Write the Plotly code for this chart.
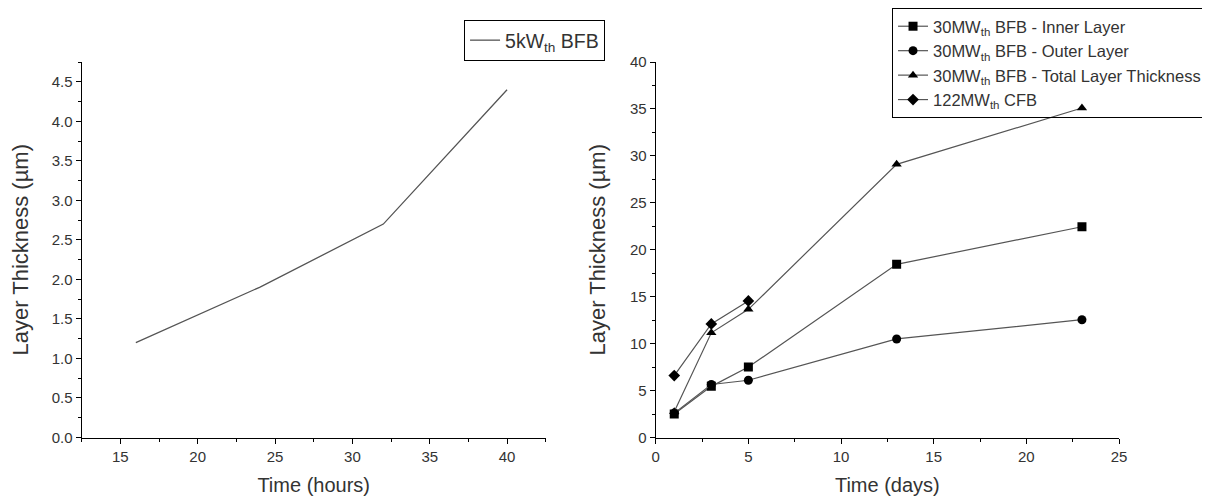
import plotly.graph_objects as go

# Left panel data (5 kWth BFB)
hours = [16, 24, 32, 40]
bfb5_thickness = [1.2, 1.9, 2.7, 4.4]

# Right panel data
days = [1, 3, 5, 13, 23]
inner_layer = [2.5, 5.45, 7.5, 18.45, 22.45]
outer_layer = [2.6, 5.65, 6.1, 10.5, 12.55]
total_layer = [2.75, 11.15, 13.65, 29.1, 35.1]
cfb_days = [1, 3, 5]
cfb_thickness = [6.6, 12.1, 14.55]

left_name = "5kW<sub>th</sub> BFB"
right_names = [
    "30MW<sub>th</sub> BFB - Inner Layer",
    "30MW<sub>th</sub> BFB - Outer Layer",
    "30MW<sub>th</sub> BFB - Total Layer Thickness",
    "122MW<sub>th</sub> CFB",
]

FONT = "Liberation Sans, Arial, sans-serif"
TXT = "#333333"
LINE = "#555555"

fig = go.Figure()

fig.add_trace(go.Scatter(
    x=hours, y=bfb5_thickness, mode="lines", name=left_name, showlegend=True,
    line=dict(color=LINE, width=1.3), xaxis="x", yaxis="y", legend="legend",
))

symbols = ["square", "circle", "triangle-up", "diamond"]
series = [(days, inner_layer), (days, outer_layer), (days, total_layer), (cfb_days, cfb_thickness)]
for (xs, ys), nm, sym in zip(series, right_names, symbols):
    fig.add_trace(go.Scatter(
        x=xs, y=ys, mode="lines+markers", name=nm, showlegend=True,
        line=dict(color=LINE, width=1.2),
        marker=dict(symbol=sym, size=9, color="black"),
        xaxis="x2", yaxis="y2", legend="legend2",
    ))

axis_common = dict(
    showline=True, linecolor="black", linewidth=1.2, mirror=False, automargin=False,
    ticks="outside", ticklen=5, tickcolor="black", showgrid=False, zeroline=False,
    tickfont=dict(family=FONT, size=15, color=TXT),
)
minor_common = dict(ticks="outside", ticklen=3, tickcolor="black")
xt_font = dict(family=FONT, size=20, color=TXT)
yt_font = dict(family=FONT, size=22, color=TXT)

Y_DOM = [0.1358, 0.8913]

fig.update_layout(
    width=1210, height=497,
    margin=dict(l=0, r=0, t=0, b=0),
    plot_bgcolor="white", paper_bgcolor="white",
    font=dict(family=FONT, color=TXT),
    xaxis=dict(domain=[0.0609, 0.4444], range=[12.5, 42.5], dtick=5, tick0=0,
               minor=dict(dtick=2.5, tick0=0, **minor_common),
               title=dict(text="Time (hours)", font=xt_font, standoff=14),
               anchor="y", **axis_common),
    yaxis=dict(domain=Y_DOM, range=[0, 4.75], dtick=0.5, tickformat=".1f",
               minor=dict(dtick=0.25, tick0=0, **minor_common),
               title=dict(text="Layer Thickness (µm)", font=yt_font, standoff=21),
               anchor="x", **axis_common),
    xaxis2=dict(domain=[0.5353, 0.9182], range=[0, 25], dtick=5,
                minor=dict(dtick=2.5, tick0=0, **minor_common),
                title=dict(text="Time (days)", font=xt_font, standoff=14),
                anchor="y2", **axis_common),
    yaxis2=dict(domain=Y_DOM, range=[0, 40], dtick=5,
                minor=dict(dtick=2.5, tick0=0, **minor_common),
                title=dict(text="Layer Thickness (µm)", font=yt_font, standoff=18),
                anchor="x2", **axis_common),
    legend=dict(x=0.3769, y=0.9759, xanchor="left", yanchor="top",
                bordercolor="black", borderwidth=1, bgcolor="white",
                font=dict(family=FONT, size=19.5, color=TXT)),
    legend2=dict(x=0.7306, y=1.0, xanchor="left", yanchor="top",
                 bordercolor="black", borderwidth=1, bgcolor="rgba(255,255,255,0)",
                 font=dict(family=FONT, size=16.5, color=TXT), tracegroupgap=0),
)

fig.write_html("out.html")
